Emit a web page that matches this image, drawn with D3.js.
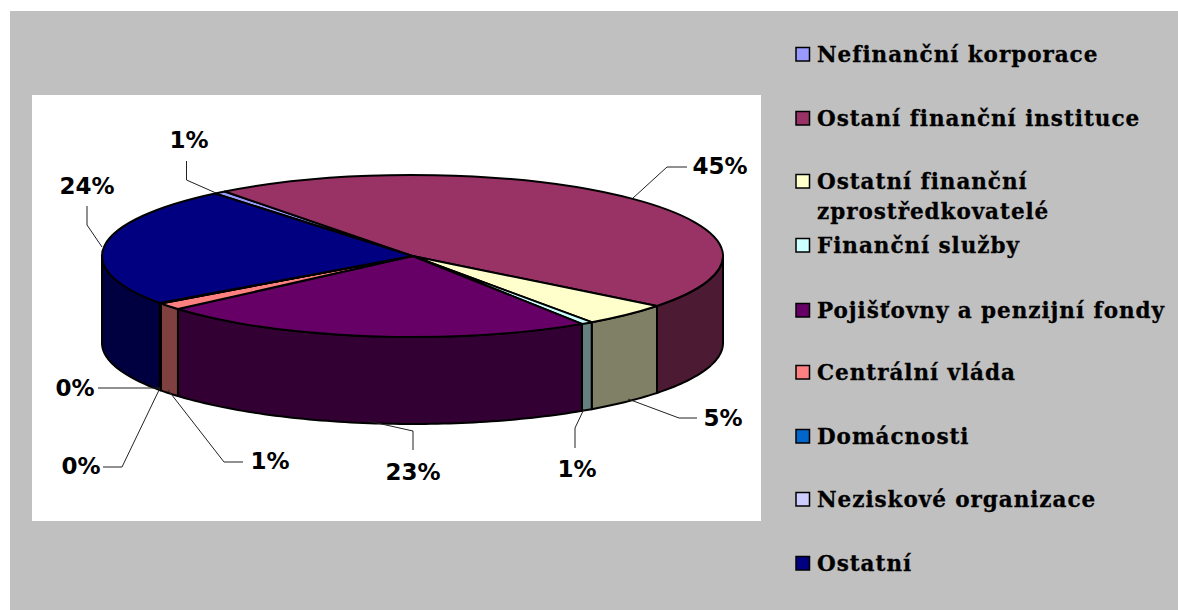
<!DOCTYPE html>
<html><head><meta charset="utf-8">
<script src="https://cdn.jsdelivr.net/npm/d3@7"></script>
<style>html,body{margin:0;padding:0;background:#fff}svg{display:block}</style>
</head><body><svg id="c" width="1178" height="610"></svg>
<script>
const categories=["Nefinanční korporace","Ostaní finanční instituce","Ostatní finanční zprostředkovatelé","Finanční služby","Pojišťovny a penzijní fondy","Centrální vláda","Domácnosti","Neziskové organizace","Ostatní"];
const values=[0.64,45.94,4.64,0.61,22.83,1.42,0.05,0.05,23.9];
const labels=["1%","45%","5%","1%","23%","1%","0%","0%","24%"];
const colors=["#9999FF","#993366","#FFFFCC","#CCFFFF","#660066","#FF8080","#0066CC","#CCCCFF","#000080"];
const legendLines=[["Nefinanční korporace"],["Ostaní finanční instituce"],["Ostatní finanční","zprostředkovatelé"],["Finanční služby"],["Pojišťovny a penzijní fondy"],["Centrální vláda"],["Domácnosti"],["Neziskové organizace"],["Ostatní"]];
const legendTop=[47,111,174,238,303,365,429,492,556];
const labelPos=[[189,148],[720,174],[723,426],[577,477],[413,480],[270,469],[75,396],[81,474],[87,194]];
const leaders=[
 [[186.5,161],[186.5,180],[216,193]],
 [[687,167],[667,167],[633,198]],
 [[697,418],[679,418],[628,399]],
 [[575,448],[575,428],[584,409]],
 [[413,450],[413,431],[368,421]],
 [[243,462],[224,462],[168,390]],
 [[98,388],[160,388]],
 [[103,467],[122,467],[160,388]],
 [[87,206],[87,225],[102,247]]
];

const svg=d3.select("#c");
svg.append("rect").attr("x",10).attr("y",11).attr("width",1168).attr("height",599).attr("fill","#C0C0C0");
svg.append("rect").attr("x",32).attr("y",95).attr("width",729).attr("height",426).attr("fill","#fff");

const cx=412.5,cy=256,rx=310.5,ry=81,depth=87;
const start=-39.5*Math.PI/180;
const pie=d3.pie().sort(null).value(d=>d).startAngle(start).endAngle(start+2*Math.PI);
const arcs=pie(values);
const X=a=>cx+rx*Math.sin(a), Y=a=>cy-ry*Math.cos(a);
const dark=c=>{const k=d3.rgb(c);return d3.rgb(k.r/2,k.g/2,k.b/2).formatHex();};

const walls=[];
arcs.forEach((d,i)=>{
  for(const off of [0,2*Math.PI,-2*Math.PI]){
    const a0=Math.max(d.startAngle+off,Math.PI/2), a1=Math.min(d.endAngle+off,3*Math.PI/2);
    if(a1>a0) walls.push({a0,a1,i});
  }
});
function wallPath(w){
  const n=Math.max(2,Math.ceil((w.a1-w.a0)/0.02)),pts=[];
  d3.range(n+1).forEach(k=>{const a=w.a0+(w.a1-w.a0)*k/n;pts.push([X(a),Y(a)]);});
  d3.range(n,-1,-1).forEach(k=>{const a=w.a0+(w.a1-w.a0)*k/n;pts.push([X(a),Y(a)+depth]);});
  return d3.line()(pts)+"Z";
}
svg.append("g").selectAll("path").data(walls).join("path")
  .attr("d",wallPath).attr("fill",d=>dark(colors[d.i]))
  .attr("stroke","#000").attr("stroke-width",2).attr("stroke-linejoin","round");

const arcGen=d3.arc().innerRadius(0).outerRadius(rx);
svg.append("g").attr("transform",`translate(${cx},${cy}) scale(1,${ry/rx})`)
  .selectAll("path").data(arcs).join("path")
  .attr("d",arcGen).attr("fill",(d,i)=>colors[i])
  .attr("stroke","#000").attr("stroke-width",2).attr("stroke-linejoin","round")
  .attr("vector-effect","non-scaling-stroke");

const line=d3.line();
svg.append("g").selectAll("path").data(leaders).join("path")
  .attr("d",d=>line(d)).attr("fill","none").attr("stroke","#222").attr("stroke-width",1);

svg.append("g").selectAll("text").data(labels).join("text")
  .attr("x",(d,i)=>labelPos[i][0]).attr("y",(d,i)=>labelPos[i][1])
  .attr("text-anchor","middle").attr("font-family","'DejaVu Sans'").attr("font-weight","bold")
  .attr("font-size",23).attr("fill","#000").text(d=>d);

const lg=svg.append("g").selectAll("g").data(categories).join("g");
lg.append("rect").attr("x",796).attr("y",(d,i)=>legendTop[i]+0.5).attr("width",13.5).attr("height",13.5)
  .attr("fill",(d,i)=>colors[i]).attr("stroke","#000").attr("stroke-width",1.5);
lg.each(function(d,i){
  const t=d3.select(this);
  legendLines[i].forEach((s,j)=>{
    t.append("text").attr("x",817).attr("y",legendTop[i]+15+j*30)
     .attr("font-family","'DejaVu Serif'").attr("font-weight","bold").attr("font-size",21.5)
     .attr("letter-spacing",0.95).attr("stroke","#000").attr("stroke-width",0.3)
     .attr("fill","#000").text(s);
  });
});
</script></body></html>
